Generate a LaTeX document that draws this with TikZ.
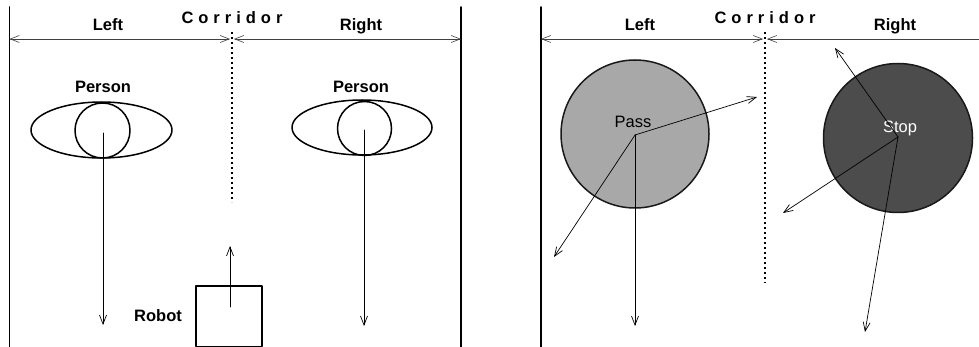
\documentclass[tikz,border=0pt]{standalone}
\usepackage{fontspec}
\setmainfont{Liberation Sans}
\usetikzlibrary{arrows.meta}

% gesperrtes Wort ueber dem Mittelstreifen
\newcommand{\corridorword}{C\kern5pt o\kern5pt r\kern5pt r\kern5pt i\kern5pt d\kern5pt o\kern5pt r}

\begin{document}
\begin{tikzpicture}[x=1pt, y=-1pt, >={Straight Barb[length=9pt,width=7pt]}, line join=round, line cap=round,
    wall/.style={line width=1.8pt},
    dimline/.style={line width=0.6pt, black!75},
    vec/.style={->, line width=0.7pt},
    divider/.style={line width=1.6pt, line cap=butt, dash pattern=on 2pt off 3pt},
    outline/.style={line width=1.5pt},
    zone/.style={circle, draw=black!90, line width=1.5pt, minimum size=148pt, inner sep=0pt},
    lbl/.style={font=\fontsize{16.5}{18}\selectfont\bfseries, inner sep=0pt, anchor=base},
    txt/.style={font=\fontsize{16.5}{18}\selectfont, inner sep=0pt, anchor=base}]
    \useasboundingbox (0,0) rectangle (979,347);

    % ---------- linkes Bild: Personen und Roboter ----------
    \coordinate (LW1) at (9.5,7);
    \coordinate (LW2) at (9.5,347);
    \coordinate (RW1) at (461,7);
    \coordinate (RW2) at (461,347);
    \draw[wall] (LW1) -- (LW2);
    \draw[wall] (RW1) -- (RW2);

    % Bemassung der beiden Haelften
    \coordinate (DL) at (9.5,39);
    \coordinate (DM1) at (230,39);
    \coordinate (DM2) at (234,39);
    \coordinate (DR) at (461,39);
    \draw[dimline, <->] (DL) -- (DM1);
    \draw[dimline, <->] (DM2) -- (DR);

    % Mittelstreifen
    \coordinate (MS1) at (232,32);
    \coordinate (MS2) at (232,202);
    \draw[divider] (MS1) -- (MS2);

    \node[lbl] (left1) at (108,31) {Left};
    \node[lbl] (corr1) at (232,24) {\corridorword};
    \node[lbl] (right1) at (361,31) {Right};

    % Person links
    \node[lbl] (pers1) at (103,93) {Person};
    \draw[outline] (101.5,130) ellipse [x radius=70.5, y radius=28];
    \draw[outline] (102.5,130.5) circle [radius=27.5];
    \coordinate (P1) at (103,133);
    \coordinate (P1e) at (103,325);
    \draw[vec] (P1) -- (P1e);

    % Person rechts
    \node[lbl] (pers2) at (361,93) {Person};
    \draw[outline] (362,127.5) ellipse [x radius=70, y radius=27.5];
    \draw[outline] (364.5,128.5) circle [radius=27];
    \coordinate (P2) at (364,130);
    \coordinate (P2e) at (364,326);
    \draw[vec] (P2) -- (P2e);

    % Roboter
    \coordinate (RB1) at (196,286);
    \coordinate (RB2) at (262,346.3);
    \draw[line width=1.3pt] (RB1) rectangle (RB2);
    \node[lbl] (robot) at (158,321) {Robot};
    \coordinate (R0) at (230,307);
    \coordinate (R1) at (230,246);
    \draw[vec] (R0) -- (R1);

    % ---------- rechtes Bild: Zonen ----------
    \coordinate (LW3) at (541,7);
    \coordinate (LW4) at (541,347);
    \draw[wall] (LW3) -- (LW4);

    \coordinate (DL2) at (541,39);
    \coordinate (DM3) at (763,39);
    \coordinate (DM4) at (767,39);
    \coordinate (DR2) at (979,39);
    \draw[dimline, <->] (DL2) -- (DM3);
    \draw[dimline, <-] (DM4) -- (DR2);

    \coordinate (MS3) at (765,32);
    \coordinate (MS4) at (765,283);
    \draw[divider] (MS3) -- (MS4);

    \node[lbl] (left2) at (640,31) {Left};
    \node[lbl] (corr2) at (765,24) {\corridorword};
    \node[lbl] (right2) at (895,31) {Right};

    % Zone "Pass"
    \node[zone, fill=black!34] (pass) at (635,134) {};
    \node[txt] (passlbl) at (633,128) {Pass};
    \coordinate (PC) at (635,135);
    \coordinate (PA) at (757,97);
    \coordinate (PB) at (554,257);
    \coordinate (PD) at (635,326);
    \draw[vec] (PC) -- (PA);
    \draw[vec] (PC) -- (PB);
    \draw[vec] (PC) -- (PD);

    % Zone "Stop"
    \node[zone, fill=black!70, minimum size=149pt] (stop) at (898,138) {};
    \node[txt, white] (stoplbl) at (900,133) {Stop};
    \coordinate (SC) at (898,137);
    \coordinate (SA) at (835,48);
    \coordinate (SB) at (783,213);
    \coordinate (SD) at (865,332);
    \draw[vec] (SC) -- (SA);
    \draw[vec] (SC) -- (SB);
    \draw[vec] (SC) -- (SD);
\end{tikzpicture}
\end{document}
